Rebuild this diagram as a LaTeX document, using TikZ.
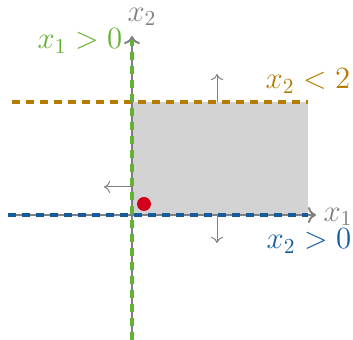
\documentclass[tikz,border=0pt]{standalone}
\usetikzlibrary{arrows.meta}
\definecolor{cgreen}{RGB}{100,178,50}
\definecolor{corange}{RGB}{180,124,0}
\definecolor{cblue}{RGB}{20,92,160}
\definecolor{cred}{RGB}{210,0,30}
\definecolor{cgrey}{RGB}{128,128,128}
\definecolor{cfill}{RGB}{211,211,211}
\tikzset{
  axis/.style={draw=cgrey, line width=1pt, -{To[length=4pt,width=8pt]}},
  bound/.style={line width=2pt, dash pattern=on 4pt off 3pt},
  hint/.style={draw=cgrey, line width=0.5pt, -{To[length=3pt,width=6pt]}},
  lbl/.style={font=\Large, inner sep=0pt, scale=1.07}
}
\begin{document}
\begin{tikzpicture}[x=0.5pt,y=-0.5pt]
\useasboundingbox (0,0) rectangle (353,340);
\coordinate (O) at (132,215);
\coordinate (R) at (308,102);
\fill[cfill] (O) rectangle (R);
\coordinate (xs) at (8,215);
\coordinate (xe) at (316,215);
\coordinate (ys) at (132,340);
\coordinate (ye) at (132,36);
\draw[axis] (xs) -- (xe);
\draw[axis] (ys) -- (ye);
\coordinate (os) at (12,102);
\coordinate (oe) at (308,102);
\draw[bound, corange] (os) -- (oe);
\coordinate (bs) at (8,215);
\coordinate (be) at (308,215);
\draw[bound, cblue] (bs) -- (be);
\coordinate (gs) at (132,340);
\coordinate (ge) at (132,40);
\draw[bound, cgreen] (gs) -- (ge);
\coordinate (u1) at (217,102);
\coordinate (u2) at (217,74);
\draw[hint] (u1) -- (u2);
\coordinate (d1) at (217,215);
\coordinate (d2) at (217,243);
\draw[hint] (d1) -- (d2);
\coordinate (l1) at (132,187);
\coordinate (l2) at (104,187);
\draw[hint] (l1) -- (l2);
\fill[cred] (144,204) circle (7);
\node[lbl, text=cgrey] (lx2) at (142,17) {$x_2$};
\node[lbl, text=cgreen] (lg) at (80,41) {$x_1>0$};
\node[lbl, text=corange] (lo) at (308,81) {$x_2<2$};
\node[lbl, text=cgrey] (lx1) at (338,217) {$x_1$};
\node[lbl, text=cblue] (lb) at (309,241) {$x_2>0$};
\end{tikzpicture}
\end{document}
